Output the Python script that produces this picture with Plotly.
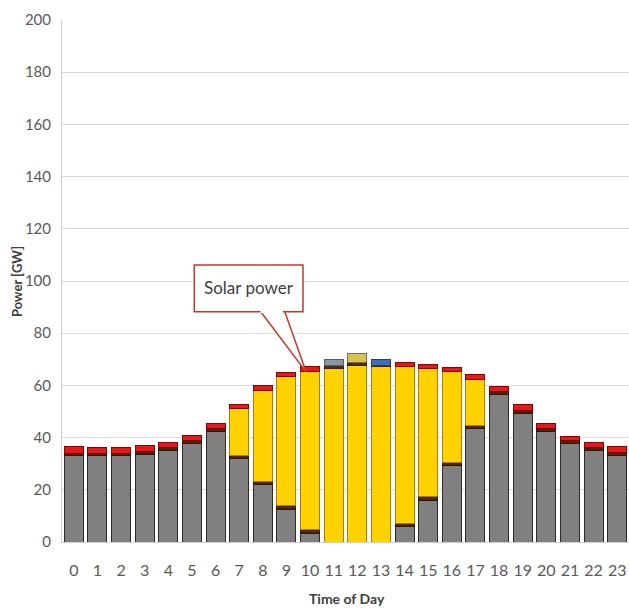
import plotly.graph_objects as go

hours = list(range(24))
tick_labels = [str(h) for h in hours]

# Stacked segments (GW), bottom to top
other_power = [33, 33, 33, 33.7, 35.2, 37.8, 42.5, 32, 22, 12.5, 3.3, 0, 0, 0,
               5.9, 16, 29.2, 43.3, 56.6, 49.3, 42.3, 37.8, 35.2, 33.3]
dark_band = [1.0, 1.0, 1.0, 1.0, 1.0, 1.0, 1.0, 1.3, 1.3, 1.3, 1.3, 0, 0, 0,
             1.3, 1.3, 1.3, 1.3, 1.0, 1.0, 1.0, 1.0, 1.0, 1.0]
solar_power = [0, 0, 0, 0, 0, 0, 0, 17.9, 34.9, 49.8, 60.9, 66.3, 67.5, 67.2,
               60.0, 49.2, 34.8, 17.7, 0, 0, 0, 0, 0, 0]
upper_band = [0] * 11 + [1.3, 1.3, 0.6] + [0] * 10
top_segment = [2.5, 2.3, 2.3, 2.3, 2.0, 2.0, 2.0, 1.5, 1.6, 1.3, 1.7, 2.5, 3.5, 2.0,
               1.5, 1.7, 1.5, 1.7, 2.0, 2.2, 2.1, 1.8, 1.8, 2.2]

annotation_text = "Solar power"
x_title = "Time of Day"
y_title = "Power [GW]"


def nz(vals):
    return [v if v else None for v in vals]


top_colors = ["#e31a1c"] * 24
top_colors[11] = "#8a96a3"
top_colors[12] = "#d9c24e"
top_colors[13] = "#3f6db5"
top_lines = ["#8b0000"] * 24
top_lines[11] = "#5a5f66"
top_lines[12] = "#6f6f55"
top_lines[13] = "#2a3f70"

upper_colors = ["#4a2f12"] * 24
upper_colors[13] = "#d2401a"

fig = go.Figure()
fig.add_bar(x=hours, y=nz(other_power), marker=dict(color="#808080", line=dict(color="#2b2b2b", width=1)))
fig.add_bar(x=hours, y=nz(dark_band), marker=dict(color="#4a2612", line=dict(color="#2b1a0a", width=1)))
fig.add_bar(x=hours, y=nz(solar_power), marker=dict(color="#ffd200", line=dict(color="#b07c00", width=1)))
fig.add_bar(x=hours, y=nz(upper_band), marker=dict(color=upper_colors, line=dict(color="#3a2008", width=1)))
fig.add_bar(x=hours, y=nz(top_segment), marker=dict(color=top_colors, line=dict(color=top_lines, width=1)))

font_family = "Lato, Open Sans, sans-serif"

# Callout box + pointer for the annotation
red = "#c0392b"
fig.add_shape(type="path", xref="x", yref="y",
              path="M 7.85 89 L 9.83 65.2 L 8.9 89 Z",
              line=dict(color=red, width=1.5), fillcolor="white", layer="above")
fig.add_shape(type="rect", xref="x", yref="y", x0=5.1, x1=9.7, y0=88.2, y1=106.1,
              line=dict(color=red, width=1.5), fillcolor="white", layer="above")
fig.add_shape(type="line", xref="x", yref="y", x0=7.9, x1=8.85, y0=88.2, y1=88.2,
              line=dict(color="white", width=2.5), layer="above")
fig.add_annotation(x=7.4, y=97.4, xref="x", yref="y", text=annotation_text, showarrow=False,
                   font=dict(family=font_family, size=17, color="#404040"))

# Axis titles
fig.add_annotation(x=0.503, y=-0.109, xref="paper", yref="paper", text="<b>" + x_title + "</b>",
                   xanchor="center", yanchor="middle",
                   showarrow=False, font=dict(family=font_family, size=14, color="#404040"))
fig.add_annotation(x=-0.0794, y=0.5, xref="paper", yref="paper", text="<b>" + y_title + "</b>",
                   xanchor="center", yanchor="middle",
                   textangle=-90, showarrow=False, font=dict(family=font_family, size=13, color="#404040"))

fig.update_layout(
    width=629, height=610,
    barmode="stack", bargap=0.2,
    showlegend=False,
    plot_bgcolor="white", paper_bgcolor="white",
    margin=dict(l=62, r=0, t=20, b=68),
    font=dict(family=font_family, color="#595959"),
)
fig.update_xaxes(range=[-0.5, 23.5], tickmode="array", tickvals=hours, ticktext=tick_labels,
                 showgrid=False, showline=True, linecolor="#d0d0d0", linewidth=1, automargin=False,
                 ticks="", ticklabelstandoff=14, tickfont=dict(size=16, color="#595959"))
fig.update_yaxes(range=[0, 200], dtick=20, showgrid=True, gridcolor="#dcdcdc", gridwidth=1,
                 showline=True, linecolor="#d0d0d0", linewidth=1, zeroline=False, automargin=False,
                 ticks="", ticklabelstandoff=7, tickfont=dict(size=15, color="#595959"))

# remove the page's default body margin so the figure fills the 629x610 window exactly
fig.write_html("out.html", config={"displayModeBar": False},
               post_script="document.body.style.margin='0';document.body.style.overflow='hidden';")
